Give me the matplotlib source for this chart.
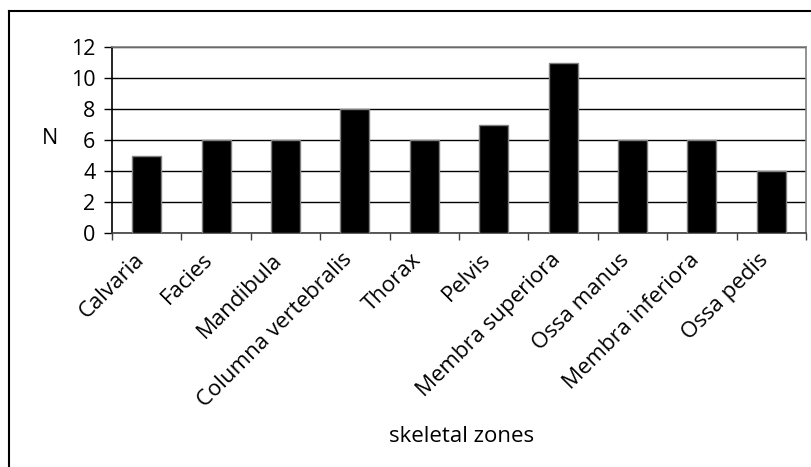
import matplotlib
matplotlib.use("Agg")
import matplotlib.pyplot as plt
from matplotlib.lines import Line2D
from matplotlib.transforms import ScaledTranslation

categories = ["Calvaria", "Facies", "Mandibula", "Columna vertebralis", "Thorax",
              "Pelvis", "Membra superiora", "Ossa manus", "Membra inferiora", "Ossa pedis"]
values = [5, 6, 6, 8, 6, 7, 11, 6, 6, 4]
yticks = [0, 2, 4, 6, 8, 10, 12]

plt.rcParams['font.family'] = ['Open Sans', 'DejaVu Sans']
FS = 16
FSY = 15.5

W, H = 811, 467
fig = plt.figure(figsize=(W/100, H/100), dpi=100)
ax = fig.add_axes([112/W, 1-233/H, (806-112)/W, (233-47)/H])

x = list(range(len(categories)))
ax.bar(x, values, width=0.42, color='black', edgecolor='#808080', linewidth=1, zorder=3)

ax.set_xlim(-0.5, len(categories)-0.5)
ax.set_ylim(0, 12)
ax.set_yticks(yticks)
ax.set_yticklabels([str(v) for v in yticks], fontsize=FSY)
ax.yaxis.grid(True, color='black', linewidth=1)
ax.set_axisbelow(True)

ax.set_xticks([i - 0.5 for i in range(len(categories)+1)])
ax.set_xticklabels([])
ax.set_xticks(x, minor=True)
ax.set_xticklabels(categories, minor=True, rotation=45, ha='right', va='center',
                   rotation_mode='anchor', fontsize=FS)
ax.tick_params(axis='x', which='minor', length=0, pad=17)
ax.tick_params(axis='x', which='major', length=5, width=1, direction='out', color='#404040')
ax.tick_params(axis='y', length=6, width=1, direction='out', color='black', pad=6)

shift = ScaledTranslation(-6/100, 0, fig.dpi_scale_trans)
for lbl in ax.get_xticklabels(minor=True):
    lbl.set_transform(lbl.get_transform() + shift)

ax.spines['left'].set_color('black')
ax.spines['bottom'].set_color('#404040')
ax.spines['top'].set_color('#808080')
ax.spines['right'].set_color('#808080')
for s in ax.spines.values():
    s.set_linewidth(1.2)

fig.text(50/W, 1-138/H, "N", fontsize=FSY, ha='center', va='center')
fig.text(462/W, 1-437/H, "skeletal zones", fontsize=FS, ha='center', va='center')

# outer border (left and top visible)
fig.add_artist(Line2D([9/W, 9/W], [0, 1-11/H], color='black', linewidth=1.5, transform=fig.transFigure))
fig.add_artist(Line2D([9/W, 1], [1-11/H, 1-11/H], color='black', linewidth=1.5, transform=fig.transFigure))

fig.savefig("out.png", dpi=100, facecolor='white')
